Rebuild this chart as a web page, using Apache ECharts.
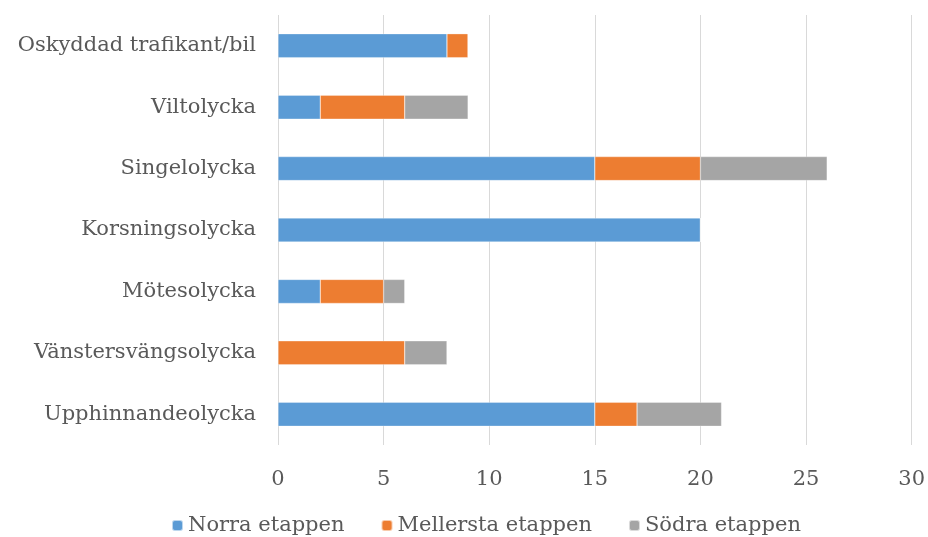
<!DOCTYPE html>
<html><head><meta charset="utf-8">
<script src="https://cdn.jsdelivr.net/npm/echarts@6/dist/echarts.min.js"></script>
<style>html,body{margin:0;padding:0;background:#fff}#c{width:928px;height:537px}</style>
</head><body><div id="c"></div>
<script>
const categories = ['Upphinnandeolycka','Vänstersvängsolycka','Mötesolycka','Korsningsolycka','Singelolycka','Viltolycka','Oskyddad trafikant/bil'];
const norra = [15, 0, 2, 20, 15, 2, 8];
const mellersta = [2, 6, 3, 0, 5, 4, 1];
const sodra = [4, 2, 1, 0, 6, 3, 0];
const seriesNames = ['Norra etappen','Mellersta etappen','Södra etappen'];
const colors = ['#5b9bd5','#ed7d31','#a5a5a5'];
const font = 'DejaVu Serif';
const chart = echarts.init(document.getElementById('c'));
const mk = (name, data, i) => ({
  name, type: 'bar', stack: 't', data, barWidth: 24,
  itemStyle: {color: colors[i], borderColor: 'rgba(255,255,255,0.6)', borderWidth: 0.5},
  emphasis: {disabled: true}
});
chart.setOption({
  animation: false,
  textStyle: {fontFamily: font},
  grid: {left: 278, right: 15, top: 15, bottom: 92, containLabel: false},
  legend: {
    bottom: 1, left: 171, padding: 0, itemWidth: 11, itemHeight: 11, itemGap: 36,
    textStyle: {fontFamily: font, fontSize: 21, color: '#595959', padding: [4, 0, 0, 0]},
    data: seriesNames
  },
  xAxis: {
    type: 'value', min: 0, max: 30, interval: 5,
    axisLine: {show: false}, axisTick: {show: false},
    splitLine: {lineStyle: {color: '#d9d9d9', width: 1}},
    axisLabel: {fontFamily: font, fontSize: 21, color: '#595959', margin: 24}
  },
  yAxis: {
    type: 'category', data: categories,
    axisLine: {show: false}, axisTick: {show: false},
    axisLabel: {fontFamily: font, fontSize: 21, color: '#595959', margin: 22}
  },
  series: [mk(seriesNames[0], norra, 0), mk(seriesNames[1], mellersta, 1), mk(seriesNames[2], sodra, 2)]
});
</script></body></html>
